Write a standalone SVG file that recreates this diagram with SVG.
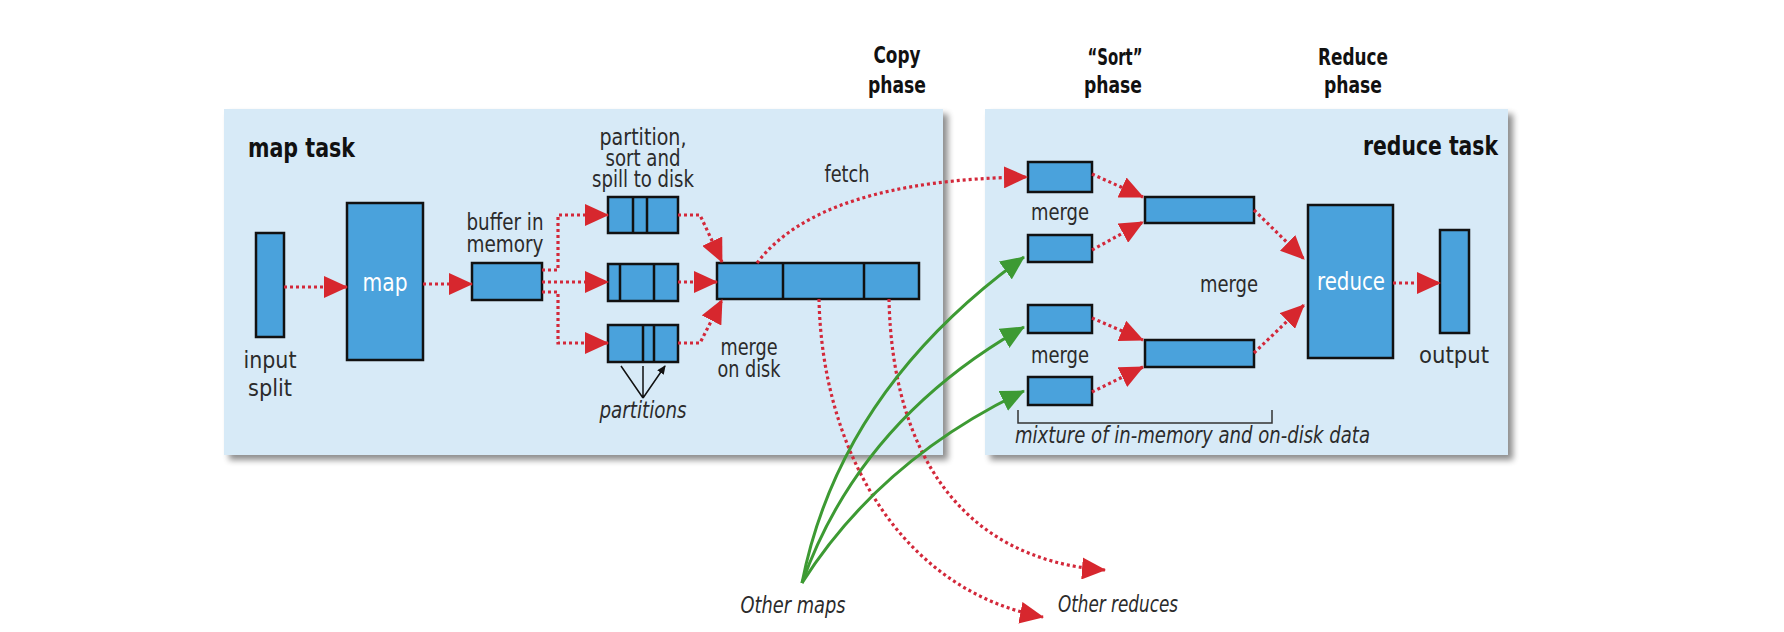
<svg xmlns="http://www.w3.org/2000/svg" width="1784" height="632" viewBox="0 0 1784 632">
<style>
.bg{fill:#d7eaf7}
.blk{fill:#4aa2dc;stroke:#111;stroke-width:2.5}
.div{stroke:#111;stroke-width:2.5}
.t{font-family:"DejaVu Sans Condensed","Liberation Sans",sans-serif;font-size:23px;fill:#2b2b2b;text-anchor:middle}
.w{fill:#fff;font-size:25px}
.b{font-weight:bold;fill:#111}
.h{font-size:26px}
.p{font-size:23px}
.i{font-style:italic}
.s{text-anchor:start}
.e{text-anchor:end}
.red{fill:none;stroke:#d3283a;stroke-width:3.2;stroke-dasharray:3 3}
.grn{fill:none;stroke:#3d9a33;stroke-width:3}
.pt{fill:none;stroke:#111;stroke-width:1.5}
</style>
<defs>
<filter id="sh" x="-5%" y="-5%" width="112%" height="115%">
<feGaussianBlur in="SourceAlpha" stdDeviation="3"/>
<feOffset dx="5" dy="5"/>
<feComponentTransfer><feFuncA type="linear" slope="0.45"/></feComponentTransfer>
<feMerge><feMergeNode/><feMergeNode in="SourceGraphic"/></feMerge>
</filter>
<marker id="ar" markerUnits="userSpaceOnUse" markerWidth="24" markerHeight="22" viewBox="0 0 24 22" refX="23" refY="11" orient="auto"><path d="M0,0 L24,11 L0,22 z" fill="#d7272e"/></marker>
<marker id="ag" markerUnits="userSpaceOnUse" markerWidth="24" markerHeight="22" viewBox="0 0 24 22" refX="23" refY="11" orient="auto"><path d="M0,0 L24,11 L0,22 z" fill="#3d9a33"/></marker>
<marker id="ak" markerUnits="userSpaceOnUse" markerWidth="9" markerHeight="8" viewBox="0 0 9 8" refX="8" refY="4" orient="auto"><path d="M0,0 L9,4 L0,8 z" fill="#111"/></marker>
</defs>
<rect width="1784" height="632" fill="#fff"/>

<g id="map-task">
<rect class="bg" x="224" y="109" width="719" height="346" filter="url(#sh)"/>
<text class="t b h s" x="248" y="157" textLength="107" lengthAdjust="spacingAndGlyphs">map task</text>
</g>
<g id="reduce-task">
<rect class="bg" x="985" y="109" width="523" height="346" filter="url(#sh)"/>
<text class="t b h s" x="1363" y="155" textLength="135" lengthAdjust="spacingAndGlyphs">reduce task</text>
</g>

<g id="phase-labels">
<text class="t b p" x="897" y="63" textLength="47" lengthAdjust="spacingAndGlyphs">Copy</text>
<text class="t b p" x="897" y="93" textLength="58" lengthAdjust="spacingAndGlyphs">phase</text>
<text class="t b p" x="1115" y="65" textLength="55" lengthAdjust="spacingAndGlyphs">“Sort”</text>
<text class="t b p" x="1113" y="93" textLength="58" lengthAdjust="spacingAndGlyphs">phase</text>
<text class="t b p" x="1353" y="65" textLength="70" lengthAdjust="spacingAndGlyphs">Reduce</text>
<text class="t b p" x="1353" y="93" textLength="58" lengthAdjust="spacingAndGlyphs">phase</text>
</g>

<g id="input-split">
<rect class="blk" x="256" y="233" width="28" height="104"/>
<text class="t" x="270" y="368" textLength="53" lengthAdjust="spacingAndGlyphs">input</text>
<text class="t" x="270" y="396" textLength="44" lengthAdjust="spacingAndGlyphs">split</text>
</g>
<g id="map">
<rect class="blk" x="347" y="203" width="76" height="157"/>
<text class="t w" x="385" y="291" textLength="45" lengthAdjust="spacingAndGlyphs">map</text>
</g>
<g id="buffer">
<rect class="blk" x="472" y="263" width="70" height="37"/>
<text class="t" x="505" y="230" textLength="77" lengthAdjust="spacingAndGlyphs">buffer in</text>
<text class="t" x="505" y="252" textLength="77" lengthAdjust="spacingAndGlyphs">memory</text>
</g>
<g id="spill-label">
<text class="t" x="643" y="145" textLength="87" lengthAdjust="spacingAndGlyphs">partition,</text>
<text class="t" x="643" y="166" textLength="75" lengthAdjust="spacingAndGlyphs">sort and</text>
<text class="t" x="643" y="187" textLength="102" lengthAdjust="spacingAndGlyphs">spill to disk</text>
</g>
<g id="spill1">
<rect class="blk" x="608" y="197" width="70" height="36"/>
<path class="div" d="M633,197V233M647,197V233"/>
</g>
<g id="spill2">
<rect class="blk" x="608" y="264" width="70" height="37"/>
<path class="div" d="M620,264V301M654,264V301"/>
</g>
<g id="spill3">
<rect class="blk" x="608" y="325" width="70" height="37"/>
<path class="div" d="M643,325V362M654,325V362"/>
</g>
<g id="partitions">
<path class="pt" d="M643,398L621,366M643,398L643,366M643,398L665,366" marker-end="url(#ak)"/>
<text class="t i" x="643" y="418" textLength="87" lengthAdjust="spacingAndGlyphs">partitions</text>
</g>
<g id="merged">
<rect class="blk" x="717" y="263" width="202" height="36"/>
<path class="div" d="M783,263V299M864,263V299"/>
<text class="t" x="749" y="355" textLength="57" lengthAdjust="spacingAndGlyphs">merge</text>
<text class="t" x="749" y="377" textLength="63" lengthAdjust="spacingAndGlyphs">on disk</text>
</g>
<g id="fetch-label">
<text class="t" x="847" y="182" textLength="45" lengthAdjust="spacingAndGlyphs">fetch</text>
</g>

<g id="r1"><rect class="blk" x="1028" y="162" width="64" height="30"/></g>
<g id="r2"><rect class="blk" x="1028" y="235" width="64" height="27"/></g>
<g id="r3"><rect class="blk" x="1028" y="305" width="64" height="28"/></g>
<g id="r4"><rect class="blk" x="1028" y="377" width="64" height="28"/></g>
<g id="merge-labels">
<text class="t" x="1060" y="220" textLength="58" lengthAdjust="spacingAndGlyphs">merge</text>
<text class="t" x="1060" y="363" textLength="58" lengthAdjust="spacingAndGlyphs">merge</text>
<text class="t" x="1229" y="292" textLength="58" lengthAdjust="spacingAndGlyphs">merge</text>
</g>
<g id="m1"><rect class="blk" x="1145" y="197" width="109" height="26"/></g>
<g id="m2"><rect class="blk" x="1145" y="340" width="109" height="27"/></g>
<g id="reduce">
<rect class="blk" x="1308" y="205" width="85" height="153"/>
<text class="t w" x="1351" y="290" textLength="68" lengthAdjust="spacingAndGlyphs">reduce</text>
</g>
<g id="output">
<rect class="blk" x="1440" y="230" width="29" height="103"/>
<text class="t" x="1454" y="363" textLength="70" lengthAdjust="spacingAndGlyphs">output</text>
</g>
<g id="mixture">
<path class="pt" d="M1018,410V423H1272V410" style="stroke:#333"/>
<text class="t i s" x="1015" y="443" textLength="355" lengthAdjust="spacingAndGlyphs">mixture of in-memory and on-disk data</text>
</g>
<g id="other-maps"><text class="t i" x="793" y="613" textLength="105" lengthAdjust="spacingAndGlyphs">Other maps</text></g>
<g id="other-reduces"><text class="t i s" x="1058" y="612" textLength="120" lengthAdjust="spacingAndGlyphs">Other reduces</text></g>

<g id="connectors">
<path class="red" d="M284,287H347" marker-end="url(#ar)"/>
<path class="red" d="M423,284H472" marker-end="url(#ar)"/>
<path class="red" d="M542,270H558V215H608" marker-end="url(#ar)"/>
<path class="red" d="M542,282H608" marker-end="url(#ar)"/>
<path class="red" d="M542,292H558V343H608" marker-end="url(#ar)"/>
<path class="red" d="M678,215H700L722,262" marker-end="url(#ar)"/>
<path class="red" d="M678,282H717" marker-end="url(#ar)"/>
<path class="red" d="M678,343H700L722,300" marker-end="url(#ar)"/>
<path class="red" d="M757,263Q820,180 1027,177" marker-end="url(#ar)"/>
<path class="red" d="M1092,174L1143,197" marker-end="url(#ar)"/>
<path class="red" d="M1092,250L1143,222" marker-end="url(#ar)"/>
<path class="red" d="M1092,318L1143,340" marker-end="url(#ar)"/>
<path class="red" d="M1092,392L1143,367" marker-end="url(#ar)"/>
<path class="red" d="M1254,210L1304,259" marker-end="url(#ar)"/>
<path class="red" d="M1254,353L1304,305" marker-end="url(#ar)"/>
<path class="red" d="M1393,283H1440" marker-end="url(#ar)"/>
<path class="red" d="M819,299C822,450 900,590 1043,617" marker-end="url(#ar)"/>
<path class="red" d="M889,299C892,450 960,560 1105,570" marker-end="url(#ar)"/>
<path class="grn" d="M802,583Q840,390 1024,257" marker-end="url(#ag)"/>
<path class="grn" d="M802,583Q860,420 1024,327" marker-end="url(#ag)"/>
<path class="grn" d="M802,583Q880,460 1024,391" marker-end="url(#ag)"/>
</g>
</svg>
